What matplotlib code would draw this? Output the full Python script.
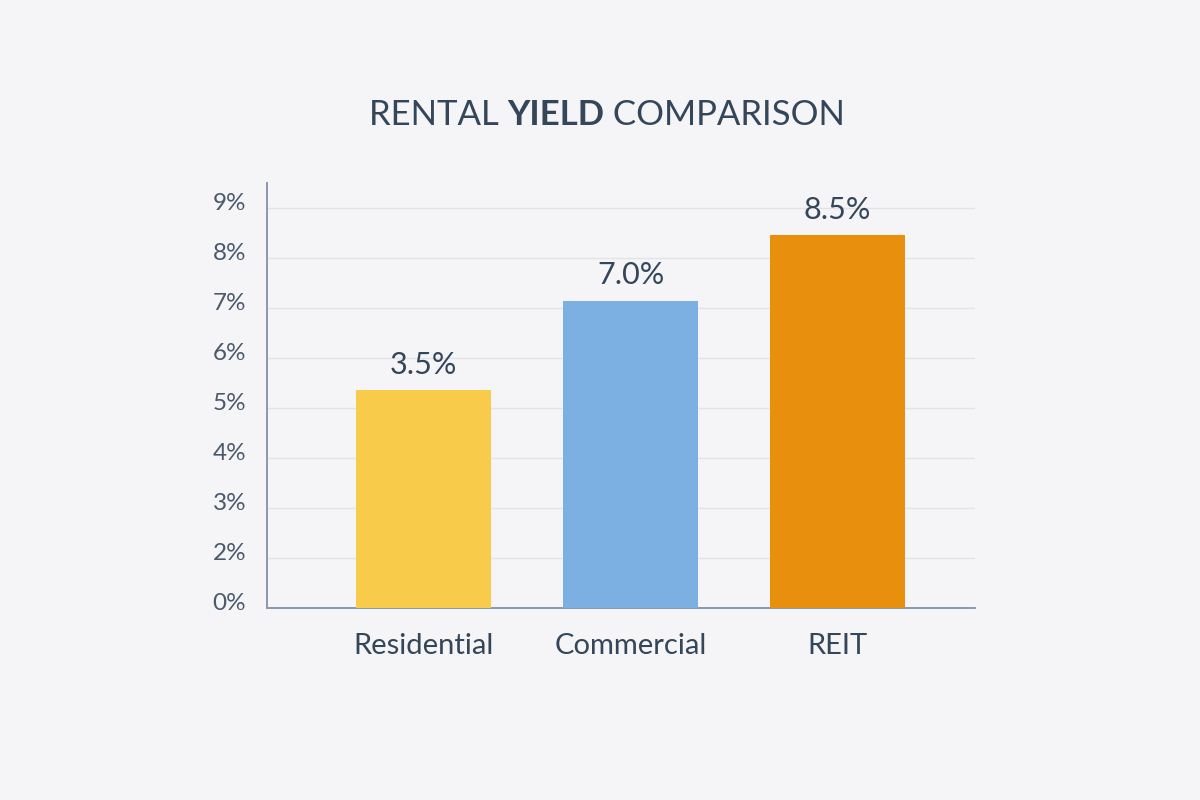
import numpy as np
import matplotlib.pyplot as plt
from matplotlib.transforms import ScaledTranslation

# data
categories = ['Residential', 'Commercial', 'REIT']
bar_heights = [4.36, 6.15, 7.46]          # in axis tick steps, as drawn
value_labels = ['3.5%', '7.0%', '8.5%']
tick_labels = ['0%', '2%', '3%', '4%', '5%', '6%', '7%', '8%', '9%']
bar_colors = ['#F8CB4A', '#7DB0E2', '#E8900E']

bg = '#F5F4F6'
text_color = '#34465A'

plt.rcParams['font.family'] = ['Lato', 'DejaVu Sans']

fig = plt.figure(figsize=(12, 8), dpi=100, facecolor=bg)
ax = fig.add_axes([0.2225, 0.24, 0.59, 0.53125], facecolor=bg)

x = np.arange(len(categories))
bars = ax.bar(x, bar_heights, width=0.65, color=bar_colors, zorder=3)

for rect, lab in zip(bars, value_labels):
    ax.annotate(lab, (rect.get_x() + rect.get_width() / 2, rect.get_height()),
                xytext=(0, 8), textcoords='offset points', ha='center', va='bottom',
                fontsize=22, color=text_color)

ax.set_xlim(-0.756, 2.664)
ax.set_ylim(0, 8.5)
ax.set_xticks(x)
ax.set_xticklabels(categories, fontsize=21, color=text_color)
ax.set_yticks(np.arange(len(tick_labels)))
ax.set_yticklabels(tick_labels, fontsize=17.5, color='#4A5A6C')
ax.tick_params(axis='both', length=0)
ax.tick_params(axis='x', pad=18)
ax.tick_params(axis='y', pad=15)
# labels sit a little above their grid lines in the reference
off = ScaledTranslation(0, 5 / 72, fig.dpi_scale_trans)
for t in ax.get_yticklabels():
    t.set_transform(t.get_transform() + off)

ax.grid(axis='y', color='#E4E3E8', linewidth=1.0, zorder=0)
for s in ['top', 'right']:
    ax.spines[s].set_visible(False)
for s in ['left', 'bottom']:
    ax.spines[s].set_color('#8C97B2')
    ax.spines[s].set_linewidth(1.4)

# title with bold middle word
parts = [('RENTAL ', 'normal'), ('YIELD', 'bold'), (' COMPARISON', 'normal')]
fig.canvas.draw()
renderer = fig.canvas.get_renderer()
texts = []
widths = []
for s, w in parts:
    t = fig.text(0, 0.856, s, fontsize=25, fontweight=w, color=text_color,
                 ha='left', va='center')
    widths.append(t.get_window_extent(renderer).width)
    texts.append(t)
total = sum(widths)
start = 607 - total / 2
for t, w in zip(texts, widths):
    t.set_x(start / 1200)
    start += w

fig.savefig('out.png', dpi=100, facecolor=bg)
